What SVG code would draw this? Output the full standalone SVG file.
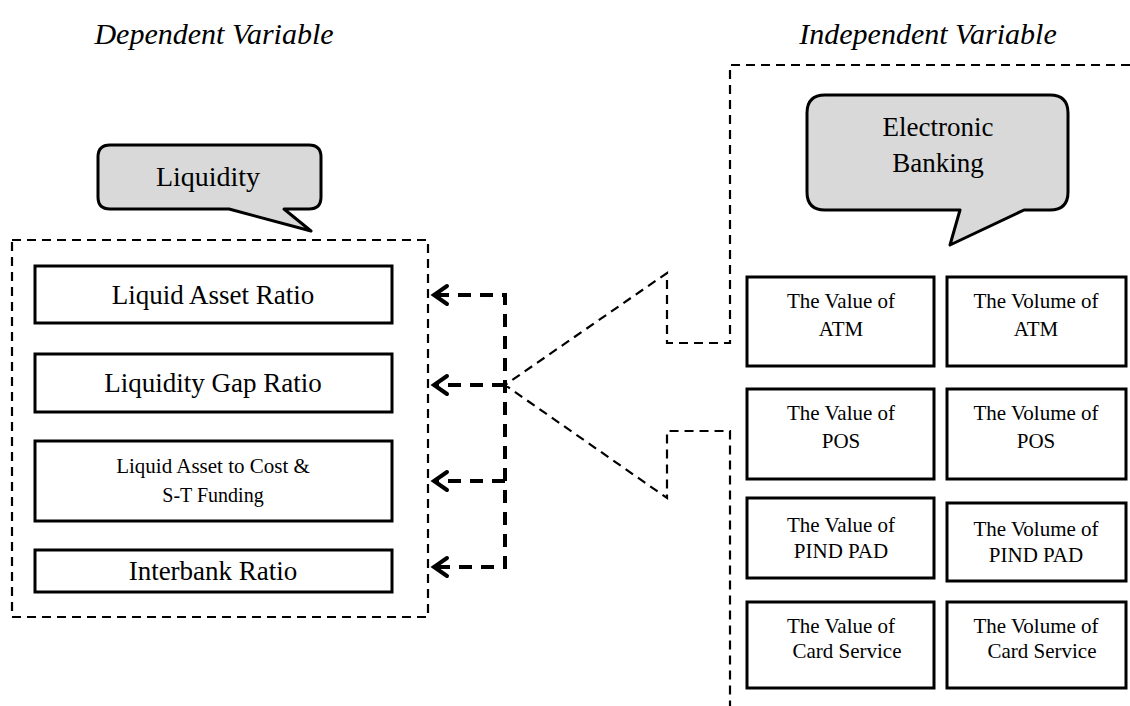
<svg xmlns="http://www.w3.org/2000/svg" width="1130" height="706" viewBox="0 0 1130 706">
<style>
.t{font-family:"Liberation Serif","Times New Roman",serif;fill:#000;text-anchor:middle}
.box{fill:#fff;stroke:#000;stroke-width:3}
.call{fill:#d9d9d9;stroke:#000;stroke-width:3;stroke-linejoin:round}
.thin{fill:none;stroke:#000;stroke-width:2.2;stroke-dasharray:9 6}
.thick{fill:none;stroke:#000;stroke-width:4;stroke-dasharray:13 9}
.head{fill:none;stroke:#000;stroke-width:4;stroke-linecap:round;stroke-linejoin:miter}
</style>
<rect width="1130" height="706" fill="#fff"/>
<text class="t" x="214" y="44" font-size="30" font-style="italic">Dependent Variable</text>
<text class="t" x="928" y="44" font-size="30" font-style="italic">Independent Variable</text>
<g id="dep-container"><rect class="thin" x="12" y="240" width="416" height="377"/></g>
<g id="indep-container"><path class="thin" d="M1130,65 H730 V343 H667 V273 L505,385 L667,498 V431 H730 V706"/></g>
<g id="liquidity">
<path class="call" d="M110,145 H309 Q321,145 321,157 V197 Q321,209 309,209 H284 L311,231 L229,209 H110 Q98,209 98,197 V157 Q98,145 110,145 Z"/>
<text class="t" x="208" y="186" font-size="28">Liquidity</text>
</g>
<g id="ebanking">
<path class="call" d="M825,95 H1050 Q1068,95 1068,113 V192 Q1068,210 1050,210 H1024 L950,245 L960,210 H825 Q807,210 807,192 V113 Q807,95 825,95 Z"/>
<text class="t" x="938" y="136" font-size="27">Electronic</text>
<text class="t" x="938" y="172" font-size="27">Banking</text>
</g>
<g id="lar"><rect class="box" x="35" y="266" width="357" height="57"/><text class="t" x="213" y="304" font-size="27">Liquid Asset Ratio</text></g>
<g id="lgr"><rect class="box" x="35" y="354" width="357" height="58"/><text class="t" x="213" y="392" font-size="27">Liquidity Gap Ratio</text></g>
<g id="latc"><rect class="box" x="35" y="441" width="357" height="80"/><text class="t" x="213" y="473" font-size="21">Liquid Asset to Cost &amp;</text><text class="t" x="213" y="502" font-size="20">S-T Funding</text></g>
<g id="ibr"><rect class="box" x="35" y="550" width="357" height="42"/><text class="t" x="213" y="580" font-size="27">Interbank Ratio</text></g>
<g id="val-atm"><rect class="box" x="747" y="277" width="187" height="89"/><text class="t" x="841" y="308" font-size="21">The Value of</text><text class="t" x="841" y="336" font-size="21">ATM</text></g>
<g id="vol-atm"><rect class="box" x="947" y="277" width="179" height="89"/><text class="t" x="1036" y="308" font-size="21">The Volume of</text><text class="t" x="1036" y="336" font-size="21">ATM</text></g>
<g id="val-pos"><rect class="box" x="747" y="389" width="187" height="90"/><text class="t" x="841" y="420" font-size="21">The Value of</text><text class="t" x="841" y="448" font-size="21">POS</text></g>
<g id="vol-pos"><rect class="box" x="947" y="389" width="179" height="90"/><text class="t" x="1036" y="420" font-size="21">The Volume of</text><text class="t" x="1036" y="448" font-size="21">POS</text></g>
<g id="val-pin"><rect class="box" x="747" y="498" width="187" height="80"/><text class="t" x="841" y="532" font-size="21">The Value of</text><text class="t" x="841" y="558" font-size="21">PIND PAD</text></g>
<g id="vol-pin"><rect class="box" x="947" y="503" width="179" height="78"/><text class="t" x="1036" y="536" font-size="21">The Volume of</text><text class="t" x="1036" y="562" font-size="21">PIND PAD</text></g>
<g id="val-card"><rect class="box" x="747" y="602" width="187" height="86"/><text class="t" x="841" y="633" font-size="21">The Value of</text><text class="t" x="847" y="658" font-size="21">Card Service</text></g>
<g id="vol-card"><rect class="box" x="947" y="602" width="179" height="86"/><text class="t" x="1036" y="633" font-size="21">The Volume of</text><text class="t" x="1042" y="658" font-size="21">Card Service</text></g>
<g id="connectors">
<path class="thick" d="M436,295 H505 V567 H436"/>
<path class="thick" d="M505,385 H436"/>
<path class="thick" d="M505,481 H436"/>
<path class="head" d="M447,286 L434,295 L447,304"/>
<path class="head" d="M447,376 L434,385 L447,394"/>
<path class="head" d="M447,472 L434,481 L447,490"/>
<path class="head" d="M447,558 L434,567 L447,576"/>
</g>
</svg>
